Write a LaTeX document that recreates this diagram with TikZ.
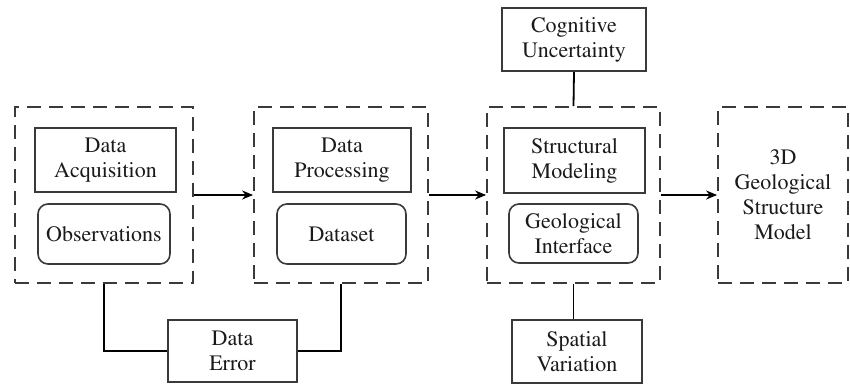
\documentclass[tikz,border=0pt]{standalone}
\usepackage[T1]{fontenc}
\usepackage{times}
\usetikzlibrary{arrows.meta}
\definecolor{boxgray}{HTML}{3A3A3A}
\definecolor{txtgray}{HTML}{1A1A1A}
\tikzset{
  outer/.style={draw=boxgray, line width=1.8pt, dash pattern=on 14pt off 8pt, minimum width=#1, minimum height=176pt, inner sep=0pt},
  sqbox/.style={draw=boxgray, line width=1.6pt, align=center, inner sep=0pt, text=txtgray, font=\rmfamily\fontsize{22}{25}\selectfont},
  rbox/.style={sqbox, rounded corners=10pt},
  conn/.style={draw=black, line width=1.8pt},
  arr/.style={conn, -{Stealth[length=11pt,width=9pt]}},
  lbl/.style={align=center, text=txtgray, font=\rmfamily\fontsize{22}{25}\selectfont}
}
\begin{document}
\begin{tikzpicture}[x=1pt,y=-1pt]
\useasboundingbox (0,0) rectangle (850,388);
% outer dashed boxes
\node[outer=178pt] (b1) at (104,195) {};
\node[outer=174pt] (b2) at (341,195) {};
\node[outer=173pt] (b3) at (573.5,195) {};
\node[outer=130pt, lbl] (b4) at (783,195) {3D\\Geological\\Structure\\Model};
% inner boxes
\node[sqbox, minimum width=141pt, minimum height=64pt] (da) at (105.5,160) {Data\\Acquisition};
\node[rbox, minimum width=132pt, minimum height=60pt] (obs) at (104,234) {Observations};
\node[sqbox, minimum width=138pt, minimum height=64pt] (dp) at (342,160) {Data\\Processing};
\node[rbox, minimum width=129pt, minimum height=60pt] (ds) at (341.5,234) {Dataset};
\node[sqbox, minimum width=141pt, minimum height=65pt] (sm) at (574.5,160.5) {Structural\\Modeling};
\node[rbox, minimum width=129pt, minimum height=59pt] (gi) at (573.5,233.5) {Geological\\Interface};
% side boxes
\node[sqbox, minimum width=144pt, minimum height=63pt] (cu) at (574,39.5) {Cognitive\\Uncertainty};
\node[sqbox, minimum width=130pt, minimum height=63pt] (sv) at (577,351.5) {Spatial\\Variation};
\node[sqbox, minimum width=129pt, minimum height=62pt] (de) at (232.5,351) {Data\\Error};
% connectors
\draw[arr] (b1.east) -- (b2.west);
\draw[arr] (b2.east) -- (b3.west);
\draw[arr] (b3.east) -- (b4.west);
\draw[conn] (cu.south) -- (b3.north);
\draw[conn] (b3.south) -- (b3.south |- sv.north);
\draw[conn] (b1.south) |- (de.west);
\draw[conn] (de.east) -| (b2.south);
\end{tikzpicture}
\end{document}
